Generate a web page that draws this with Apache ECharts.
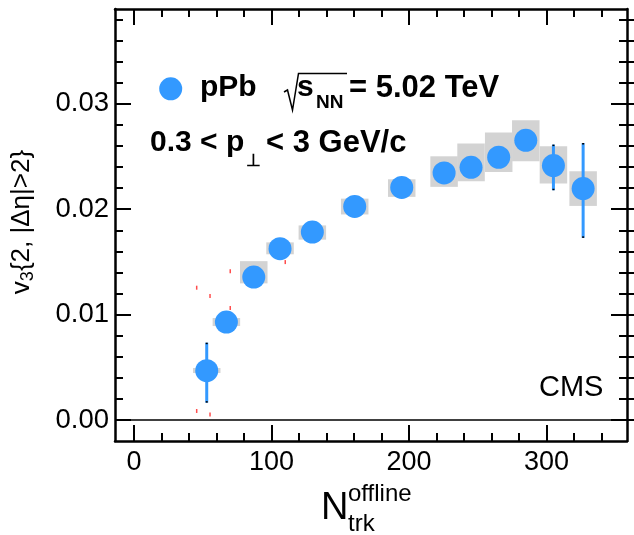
<!DOCTYPE html>
<html><head><meta charset="utf-8">
<script src="https://cdn.jsdelivr.net/npm/echarts@6/dist/echarts.min.js"></script>
<style>html,body{margin:0;padding:0;background:#fff}#c{width:634px;height:535px}</style>
</head><body><div id="c"></div>
<script>
// ---- data ----
const nTrk = [52.9, 67.2, 87.1, 106.2, 129.7, 160.5, 194.7, 225.5, 245.1, 265.2, 284.9, 305.0, 326.6];
const v3 = [0.00467, 0.00929, 0.01356, 0.01625, 0.01783, 0.02026, 0.02206, 0.02344, 0.02398, 0.02493, 0.02654, 0.02414, 0.02196];
const statLow = [0.00164, 0.00859, 0.01296, 0.01565, 0.01733, 0.01976, 0.02156, 0.02284, 0.02328, 0.02413, 0.02564, 0.02180, 0.01728];
const statHigh = [0.00733, 0.00999, 0.01416, 0.01685, 0.01833, 0.02076, 0.02256, 0.02404, 0.02468, 0.02573, 0.02744, 0.02613, 0.02628];
const sysLow = [0.00445, 0.00891, 0.01296, 0.01572, 0.01711, 0.01950, 0.02117, 0.02212, 0.02265, 0.02354, 0.02455, 0.02244, 0.02031];
const sysHigh = [0.00493, 0.00967, 0.01507, 0.01685, 0.01846, 0.02100, 0.02284, 0.02502, 0.02623, 0.02727, 0.02844, 0.02597, 0.02360];
const sysHalfWidth = 10;
const redX = [45.6, 55.3, 70.0, 70.0, 110.0, 45.6, 55.3];
const redY = [0.01255, 0.01177, 0.01410, 0.01062, 0.01498, 0.00085, 0.00052];
const xMajor = [0, 100, 200, 300];
const xMinor = [20, 40, 60, 80, 120, 140, 160, 180, 220, 240, 260, 280, 320, 340];
const yMajor = [0, 0.01, 0.02, 0.03];
const yMinor = [0.002, 0.004, 0.006, 0.008, 0.012, 0.014, 0.016, 0.018, 0.022, 0.024, 0.026, 0.028, 0.032, 0.034, 0.036, 0.038];
const xRange = [-13.8, 358.5];
const yRange = [-0.002, 0.039];

const FONT = "'Liberation Sans', Arial, Helvetica, sans-serif";
const BLUE = '#3399ff';

function xAx(pos, ticks, len, line, labels) {
  return {
    type: 'value', position: pos, min: xRange[0], max: xRange[1], gridIndex: 0,
    axisLine: { show: line, onZero: false, lineStyle: { color: '#000', width: 2.5 } },
    axisTick: { show: true, inside: true, length: len, customValues: ticks, lineStyle: { color: '#000', width: 2 } },
    axisLabel: labels ? { show: true, customValues: ticks, margin: 8, color: '#000', fontSize: 27, fontFamily: FONT } : { show: false },
    splitLine: { show: false }
  };
}
function yAx(pos, ticks, len, inside, line, labels) {
  return {
    type: 'value', position: pos, min: yRange[0], max: yRange[1], gridIndex: 0,
    axisLine: { show: line, onZero: false, lineStyle: { color: '#000', width: 2.5 } },
    axisTick: { show: true, inside: inside, length: len, customValues: ticks, lineStyle: { color: '#000', width: 2 } },
    axisLabel: labels ? { show: true, customValues: ticks, margin: 6, color: '#000', fontSize: 27.5, fontFamily: FONT,
      formatter: v => Number(v).toFixed(2) } : { show: false },
    splitLine: { show: false }
  };
}

const chart = echarts.init(document.getElementById('c'), null, { renderer: 'canvas' });
chart.setOption({
  animation: false,
  backgroundColor: '#fff',
  grid: { left: 115, top: 9, right: 7, bottom: 94, containLabel: false },
  xAxis: [
    xAx('bottom', xMajor, 16, true, true),
    xAx('bottom', xMinor, 8, false, false),
    xAx('top', xMajor, 16, true, false),
    xAx('top', xMinor, 8, false, false)
  ],
  yAxis: [
    yAx('left', yMajor, 16, true, true, true),
    yAx('left', yMinor, 8, true, false, false),
    yAx('right', yMajor, 16, true, true, false),
    yAx('right', yMinor, 8, true, false, false),
    yAx('right', yMajor.concat(yMinor), 7, false, false, false)
  ],
  series: [
    {
      type: 'custom', name: 'sys', xAxisIndex: 0, yAxisIndex: 0, z: 1, silent: true,
      data: nTrk.map((x, i) => [x, sysLow[i], sysHigh[i]]),
      encode: { x: 0, y: [1, 2] },
      renderItem: function (params, api) {
        const x = api.value(0), lo = api.value(1), hi = api.value(2);
        const p1 = api.coord([x - sysHalfWidth, hi]);
        const p2 = api.coord([x + sysHalfWidth, lo]);
        return { type: 'rect', shape: { x: p1[0], y: p1[1], width: p2[0] - p1[0], height: p2[1] - p1[1] },
          style: { fill: '#d3d3d3' } };
      },
      markLine: {
        silent: true, symbol: 'none', label: { show: false },
        lineStyle: { color: '#000', width: 1.5, type: 'solid' },
        data: [{ yAxis: 0 }]
      }
    },
    {
      type: 'scatter', name: 'red', xAxisIndex: 0, yAxisIndex: 0, z: 2, silent: true,
      symbol: 'rect', symbolSize: [1.5, 4], itemStyle: { color: '#ff2020' },
      data: redX.map((x, i) => [x, redY[i]])
    },
    {
      type: 'custom', name: 'stat', xAxisIndex: 0, yAxisIndex: 0, z: 3, silent: true,
      data: nTrk.map((x, i) => [x, statLow[i], statHigh[i]]),
      encode: { x: 0, y: [1, 2] },
      renderItem: function (params, api) {
        const x = api.value(0), lo = api.value(1), hi = api.value(2);
        const a = api.coord([x, hi]), b = api.coord([x, lo]);
        return { type: 'group', children: [
          { type: 'line', shape: { x1: a[0], y1: a[1], x2: b[0], y2: b[1] }, style: { stroke: BLUE, lineWidth: 3 } },
          { type: 'line', shape: { x1: a[0], y1: a[1], x2: a[0], y2: a[1] + 1.5 }, style: { stroke: '#000', lineWidth: 2 } },
          { type: 'line', shape: { x1: b[0], y1: b[1] - 1.5, x2: b[0], y2: b[1] }, style: { stroke: '#000', lineWidth: 2 } }
        ] };
      }
    },
    {
      type: 'scatter', name: 'pPb', xAxisIndex: 0, yAxisIndex: 0, z: 4,
      symbol: 'circle', symbolSize: 23, itemStyle: { color: BLUE, opacity: 1 },
      data: nTrk.map((x, i) => [x, v3[i]])
    }
  ],
  graphic: [
    // legend marker + label
    { type: 'circle', shape: { cx: 170.7, cy: 88.8, r: 11.5 }, style: { fill: BLUE }, z: 10 },
    { type: 'text', x: 200, y: 88, z: 10, style: { text: 'pPb', font: 'bold 30px ' + FONT, fill: '#000', align: 'left', verticalAlign: 'middle' } },
    { type: 'polyline', z: 10, shape: { points: [[284, 92], [287.5, 90], [292.5, 110], [298.5, 73.5], [347, 73.5]] },
      style: { stroke: '#000', lineWidth: 1.5, fill: null } },
    { type: 'text', x: 297, y: 88, z: 10, style: { text: 's', font: 'bold 30px ' + FONT, fill: '#000', align: 'left', verticalAlign: 'middle' } },
    { type: 'text', x: 316, y: 103, z: 10, style: { text: 'NN', font: 'bold 19px ' + FONT, fill: '#000', align: 'left', verticalAlign: 'middle' } },
    { type: 'text', x: 349, y: 88, z: 10, style: { text: '= 5.02 TeV', font: 'bold 31px ' + FONT, fill: '#000', align: 'left', verticalAlign: 'middle' } },
    // second line
    { type: 'text', x: 150, y: 143, z: 10, style: { text: '0.3 < p', font: 'bold 30px ' + FONT, fill: '#000', align: 'left', verticalAlign: 'middle' } },
    { type: 'text', x: 246, y: 161, z: 10, style: { text: '\u22A5', font: 'bold 17px ' + FONT, fill: '#000', align: 'left', verticalAlign: 'middle' } },
    { type: 'text', x: 266, y: 143, z: 10, style: { text: '< 3 GeV/c', font: 'bold 31px ' + FONT, fill: '#000', align: 'left', verticalAlign: 'middle' } },
    // CMS
    { type: 'text', x: 539, y: 388, z: 10, style: { text: 'CMS', font: '29px ' + FONT, fill: '#000', align: 'left', verticalAlign: 'middle' } },
    // y title
    { type: 'text', x: 22, y: 222, rotation: Math.PI / 2, z: 10,
      style: { text: '{s|v}{b|3}{2, |\u0394\u03B7|>2}', font: '26px ' + FONT, fontSize: 26, fontFamily: FONT, lineHeight: 30, fill: '#000',
        align: 'center', verticalAlign: 'middle',
        rich: { s: { fontSize: 26, fontFamily: FONT, lineHeight: 30 }, b: { fontSize: 18, fontFamily: FONT, lineHeight: 14, verticalAlign: 'bottom' } } } },
    // x title
    { type: 'text', x: 321, y: 509, z: 10, style: { text: 'N', font: '38px ' + FONT, fill: '#000', align: 'left', verticalAlign: 'middle' } },
    { type: 'text', x: 348, y: 494.5, z: 10, style: { text: 'offline', font: '24px ' + FONT, fill: '#000', align: 'left', verticalAlign: 'middle' } },
    { type: 'text', x: 348, y: 524.5, z: 10, style: { text: 'trk', font: '24px ' + FONT, fill: '#000', align: 'left', verticalAlign: 'middle' } }
  ]
});
</script>
</body></html>
